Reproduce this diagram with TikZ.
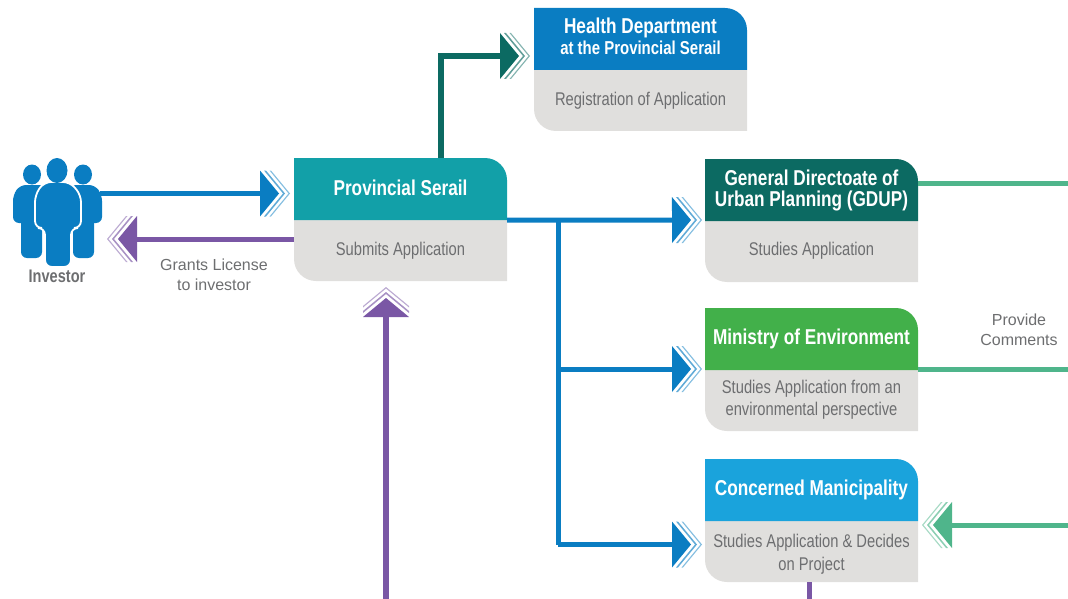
\documentclass[tikz,border=0pt]{standalone}
\usepackage{fontspec}
\setmainfont{Liberation Sans}
\newfontfamily\headfont[FakeStretch=0.80]{Liberation Sans}
\newfontfamily\bodyfont[FakeStretch=0.80]{Liberation Sans}
\usetikzlibrary{arrows.meta}
\usetikzlibrary{calc}

\definecolor{healthblue}{HTML}{0A7DC2}
\definecolor{serailteal}{HTML}{12A0A8}
\definecolor{gdupgreen}{HTML}{0C6A62}
\definecolor{envgreen}{HTML}{42B04A}
\definecolor{municipalblue}{HTML}{1AA3DC}
\definecolor{linepurple}{HTML}{7A57A5}
\definecolor{linegreen}{HTML}{4FB58B}
\definecolor{boxgrey}{HTML}{E0DFDD}
\definecolor{textgrey}{HTML}{6D6E70}

\pgfdeclarearrow{
  name=Triple Chevron,
  setup code={\pgfarrowssettipend{30pt}\pgfarrowssetlineend{1pt}\pgfarrowssetbackend{0pt}},
  drawing code={
    \pgfpathmoveto{\pgfqpoint{0pt}{23pt}}
    \pgfpathlineto{\pgfqpoint{19pt}{0pt}}
    \pgfpathlineto{\pgfqpoint{0pt}{-23pt}}
    \pgfpathclose
    \pgfusepathqfill
    \begin{pgfscope}
    \pgfsetfillopacity{0.65}
    \pgfpathmoveto{\pgfqpoint{4pt}{23pt}}
    \pgfpathlineto{\pgfqpoint{6pt}{23pt}}
    \pgfpathlineto{\pgfqpoint{25pt}{0pt}}
    \pgfpathlineto{\pgfqpoint{6pt}{-23pt}}
    \pgfpathlineto{\pgfqpoint{4pt}{-23pt}}
    \pgfpathlineto{\pgfqpoint{23pt}{0pt}}
    \pgfpathclose
    \pgfusepathqfill
    \pgfsetfillopacity{0.5}
    \pgfpathmoveto{\pgfqpoint{9.5pt}{23pt}}
    \pgfpathlineto{\pgfqpoint{11pt}{23pt}}
    \pgfpathlineto{\pgfqpoint{30pt}{0pt}}
    \pgfpathlineto{\pgfqpoint{11pt}{-23pt}}
    \pgfpathlineto{\pgfqpoint{9.5pt}{-23pt}}
    \pgfpathlineto{\pgfqpoint{28.5pt}{0pt}}
    \pgfpathclose
    \pgfusepathqfill
    \end{pgfscope}
  }
}

\tikzset{
  tripletip/.style={-{Triple Chevron}},
  connector/.style={line width=#1},
  headtext/.style={font=\headfont\bfseries\fontsize{21.5}{21}\selectfont,text=white,align=center,inner sep=0pt,minimum width=213pt,minimum height=62pt},
  bodytext/.style={font=\bodyfont\fontsize{18.4}{22}\selectfont,text=textgrey,align=center,inner sep=0pt,minimum width=213pt,minimum height=61pt},
  notetext/.style={font=\fontsize{16}{20}\selectfont,text=textgrey,align=center,inner sep=0pt}
}

% text height in box, name, left, top, colour, title, text
\newcommand{\deptbox}[7][92]{
\begin{scope}[shift={(#3,#4)}]
\fill[boxgrey] (0,62) -- (213,62) -- (213,123) -- (22,123) to[out=180,in=-90] (0,101) -- cycle;
\fill[#5] (0,0) -- (191,0) to[out=0,in=90] (213,22) -- (213,62) -- (0,62) -- cycle;
\node[headtext] (#2) at (106.5,31) {#6};
\node[bodytext] (#2text) at (106.5,#1) {#7};
\end{scope}
}

\begin{document}
\begin{tikzpicture}[x=1pt,y=-1pt,line cap=butt]
\useasboundingbox (0,0) rectangle (1068,599);

\deptbox[93]{health}{534}{8}{healthblue}{Health Department\\{\fontsize{18.7}{21}\selectfont at the Provincial Serail\rule[-5pt]{0pt}{0pt}}}{Registration of Application}
\deptbox[93]{serail}{294}{158}{serailteal}{Provincial Serail\rule[-2pt]{0pt}{0pt}}{Submits Application}
\deptbox{gdup}{705}{159}{gdupgreen}{General Directoate of\\Urban Planning (GDUP)\rule[-2pt]{0pt}{0pt}}{Studies Application}
\deptbox{environment}{705}{308}{envgreen}{Ministry of Environment}{Studies Application from an\\environmental perspective}
\deptbox[95.5]{municipality}{705}{459}{municipalblue}{Concerned Manicipality}{Studies Application \& Decides\\[1pt]on Project}

\fill[healthblue,rounded corners=6] (21,190) rectangle (42,258);
\fill[healthblue,rounded corners=6] (73,190) rectangle (94,258);
\fill[healthblue,rounded corners=6] (13,223) -- (13,195) -- (20,185) -- (45,185) -- (45,223) -- cycle;
\fill[healthblue,rounded corners=6] (70,223) -- (70,185) -- (95,185) -- (102,195) -- (102,223) -- cycle;
\fill[healthblue] (32,174.5) ellipse (9 and 10);
\fill[healthblue] (83,174.5) ellipse (9 and 10);
\filldraw[healthblue,draw=white,line width=1.8pt,rounded corners=7] (35,228) -- (35,195) -- (44,182) -- (70,182) -- (81,195) -- (81,228) -- (71,228) -- (71,267) -- (45,267) -- (45,228) -- cycle;
\fill[healthblue] (57,170.5) ellipse (10.5 and 12.5);
\node[inner sep=0pt,minimum width=89pt,minimum height=108pt] (investor) at (57.5,212) {};
\node[font=\headfont\bfseries\fontsize{18.2}{20}\selectfont,text=textgrey,inner sep=0pt] (investorlabel) at (57,276) {Investor};

\node[notetext] (grants) at (214,275) {Grants License\\to investor};
\node[notetext] (provide) at (1019,329.5) {Provide\\Comments};

\coordinate (investorout) at (100,193.5);
\coordinate (serailin) at (290,193.5);
\coordinate (investorin) at (107,239);
\coordinate (serailout) at (294,239);
\coordinate (healthout) at (441,158);
\coordinate (healthin) at (530,56);
\coordinate (branch) at (558,220);
\coordinate (gdupin) at (702,220);
\coordinate (envbranch) at (558,369);
\coordinate (envin) at (702,369);
\coordinate (munbranch) at (558,544.5);
\coordinate (munin) at (702,544.5);
\coordinate (gdupright) at (1068,183);
\coordinate (envright) at (1068,369);
\coordinate (munright) at (1068,525);
\coordinate (purplebottom) at (386,599);
\coordinate (purpletop) at (386,287);
\coordinate (munout) at (809,582);
\coordinate (munbottom) at (809,599);
\coordinate (greenin) at (922,525);
\coordinate (gdupout) at (918,183);
\coordinate (envout) at (918,369);

\draw[healthblue,connector=5pt,tripletip] (investorout) -- (serailin);
\draw[linepurple,connector=5pt,tripletip] (serailout) -- (investorin);
\draw[gdupgreen,connector=6pt,tripletip] (healthout) |- (healthin);
\draw[healthblue,connector=5pt,tripletip] (serail.south east) -- (gdupin);
\draw[healthblue,connector=5pt] (branch) -- (munbranch);
\draw[healthblue,connector=5pt,tripletip] (envbranch) -- (envin);
\draw[healthblue,connector=5pt,tripletip] (munbranch) -- (munin);
\draw[linepurple,connector=6pt,tripletip] (purplebottom) -- (purpletop);
\draw[linegreen,connector=5pt] (gdupout) -- (gdupright);
\draw[linegreen,connector=5pt] (envout) -- (envright);
\draw[linegreen,connector=5pt,tripletip] (munright) -- (greenin);
\draw[linepurple,connector=5pt] (munout) -- (munbottom);
\end{tikzpicture}
\end{document}
